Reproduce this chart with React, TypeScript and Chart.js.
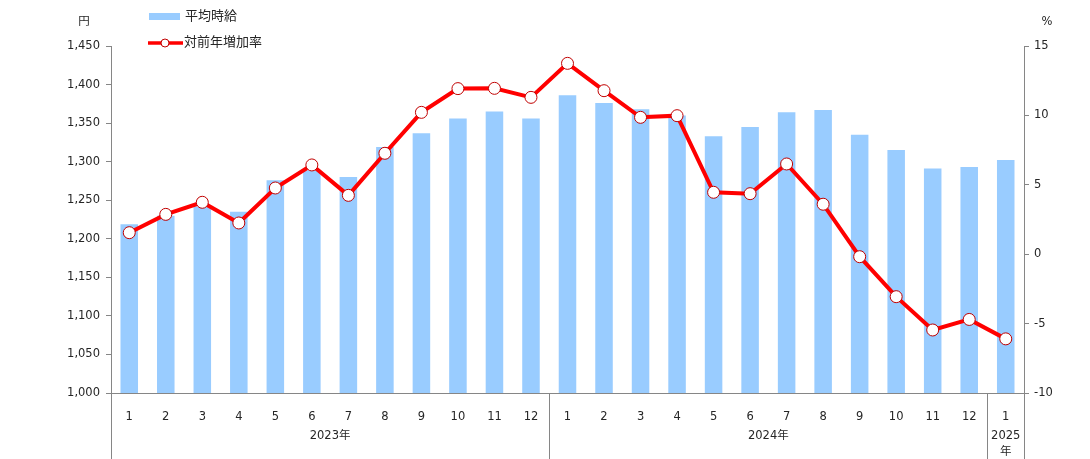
import React, { useEffect, useRef } from "react";
import { Chart, registerables } from "chart.js";

Chart.register(...registerables);

const monthLabels = [
  "1", "2", "3", "4", "5", "6", "7", "8", "9", "10", "11", "12",
  "1", "2", "3", "4", "5", "6", "7", "8", "9", "10", "11", "12",
  "1",
];
const yearLabels = ["2023年", "2024年", "2025年"];
const yearSpans = [12, 12, 1];

const hourlyWage = [
  1219, 1230, 1242, 1235, 1276, 1289, 1280, 1319, 1337, 1356, 1365, 1356,
  1386, 1376, 1368, 1360, 1333, 1345, 1364, 1367, 1335, 1315, 1291, 1293,
  1302,
];
const yoyRate = [
  1.55, 2.87, 3.74, 2.25, 4.77, 6.43, 4.24, 7.27, 10.22, 11.93, 11.95, 11.3,
  13.75, 11.78, 9.86, 9.98, 4.46, 4.36, 6.5, 3.6, -0.18, -3.06, -5.46, -4.7,
  -6.1,
];

const leftMin = 1000;
const leftMax = 1450;
const leftStep = 50;
const rightMin = -10;
const rightMax = 15;
const rightStep = 5;

const seriesNames = ["平均時給", "対前年増加率"];

const FONT = "'DejaVu Sans', Verdana, 'Noto Sans CJK JP', sans-serif";
const TEXT = "#262626";
const AXIS = "#868686";
const BAR = "#99CCFF";
const LINE = "#FF0000";
const FS = 11.5;

const decorPlugin = {
  id: "decor",
  afterDraw(chart: any) {
    const ctx = chart.ctx;
    const xs = chart.scales.x;
    const area = chart.chartArea;
    const H = chart.height;
    ctx.save();
    ctx.strokeStyle = AXIS;
    ctx.lineWidth = 1;
    const vline = (x: number) => {
      ctx.beginPath();
      ctx.moveTo(Math.round(x) + 0.5, area.bottom);
      ctx.lineTo(Math.round(x) + 0.5, H);
      ctx.stroke();
    };
    vline(area.left);
    vline(area.right);
    const half = (xs.getPixelForValue(1) - xs.getPixelForValue(0)) / 2;
    let start = 0;
    ctx.fillStyle = TEXT;
    ctx.textAlign = "center";
    ctx.textBaseline = "middle";
    ctx.font = `${FS}px ${FONT}`;
    yearSpans.forEach((span, i) => {
      const x0 = xs.getPixelForValue(start) - half;
      const x1 = xs.getPixelForValue(start + span - 1) + half;
      if (i > 0) vline(x0);
      const cx = (x0 + x1) / 2;
      const lab = yearLabels[i];
      if (span === 1) {
        ctx.fillText(lab.slice(0, 4), cx, 436);
        ctx.fillText(lab.slice(4), cx, 452);
      } else {
        ctx.fillText(lab, cx, 436);
      }
      start += span;
    });

    ctx.font = `${FS}px ${FONT}`;
    ctx.fillText("円", 84, 22);
    ctx.fillText("%", 1047, 22);

    ctx.textAlign = "left";
    ctx.font = `13px ${FONT}`;
    ctx.fillStyle = BAR;
    ctx.fillRect(149, 13, 31, 7);
    ctx.fillStyle = TEXT;
    ctx.fillText(seriesNames[0], 185, 17);
    ctx.strokeStyle = LINE;
    ctx.lineWidth = 3.5;
    ctx.beginPath();
    ctx.moveTo(148, 43);
    ctx.lineTo(183, 43);
    ctx.stroke();
    ctx.beginPath();
    ctx.arc(165, 43, 4, 0, Math.PI * 2);
    ctx.fillStyle = "#FFFFFF";
    ctx.fill();
    ctx.lineWidth = 1;
    ctx.strokeStyle = "#C00000";
    ctx.stroke();
    ctx.fillStyle = TEXT;
    ctx.fillText(seriesNames[1], 184, 43);
    ctx.restore();
  },
};

export default function App() {
  const ref = useRef<HTMLCanvasElement | null>(null);
  useEffect(() => {
    document.body.style.margin = "0";
    const canvas = ref.current;
    if (!canvas) return;
    const chart = new Chart(canvas, {
      type: "bar",
      data: {
        labels: monthLabels,
        datasets: [
          {
            type: "line",
            label: seriesNames[1],
            data: yoyRate,
            yAxisID: "y1",
            borderColor: LINE,
            borderWidth: 4,
            pointRadius: 6,
            pointBackgroundColor: "#FFFFFF",
            pointBorderColor: "#C00000",
            pointBorderWidth: 1,
            tension: 0,
            order: 0,
          } as any,
          {
            type: "bar",
            label: seriesNames[0],
            data: hourlyWage,
            yAxisID: "y",
            backgroundColor: BAR,
            borderWidth: 0,
            barPercentage: 0.48,
            categoryPercentage: 1,
            order: 1,
          } as any,
        ],
      },
      options: {
        responsive: false,
        animation: false,
        layout: { padding: { top: 46, left: 0, right: 0, bottom: 0 } },
        plugins: {
          legend: { display: false },
          tooltip: { enabled: false },
        },
        scales: {
          x: {
            grid: { display: false },
            border: { display: true, color: AXIS, width: 1 },
            ticks: {
              color: TEXT,
              font: { family: FONT, size: FS },
              padding: 9,
              maxRotation: 0,
              autoSkip: false,
            },
            afterFit(scale: any) {
              scale.height = 66;
            },
          },
          y: {
            position: "left",
            min: leftMin,
            max: leftMax,
            grid: {
              display: true,
              drawOnChartArea: false,
              drawTicks: true,
              tickLength: 5,
              color: AXIS,
            },
            border: { display: true, color: AXIS, width: 1 },
            ticks: {
              stepSize: leftStep,
              color: TEXT,
              font: { family: FONT, size: FS },
              padding: 6,
              callback: (v: any) => Number(v).toLocaleString("en-US"),
            },
            afterFit(scale: any) {
              scale.width = 111;
            },
          },
          y1: {
            position: "right",
            min: rightMin,
            max: rightMax,
            grid: {
              display: true,
              drawOnChartArea: false,
              drawTicks: true,
              tickLength: 5,
              color: AXIS,
            },
            border: { display: true, color: AXIS, width: 1 },
            ticks: {
              stepSize: rightStep,
              color: TEXT,
              font: { family: FONT, size: FS },
              padding: 5,
            },
            afterFit(scale: any) {
              scale.width = 66;
            },
          },
        },
      } as any,
      plugins: [decorPlugin],
    });
    return () => chart.destroy();
  }, []);
  return (
    <div style={{ width: 1090, height: 459 }}>
      <canvas ref={ref} width={1090} height={459} style={{ display: "block" }} />
    </div>
  );
}
